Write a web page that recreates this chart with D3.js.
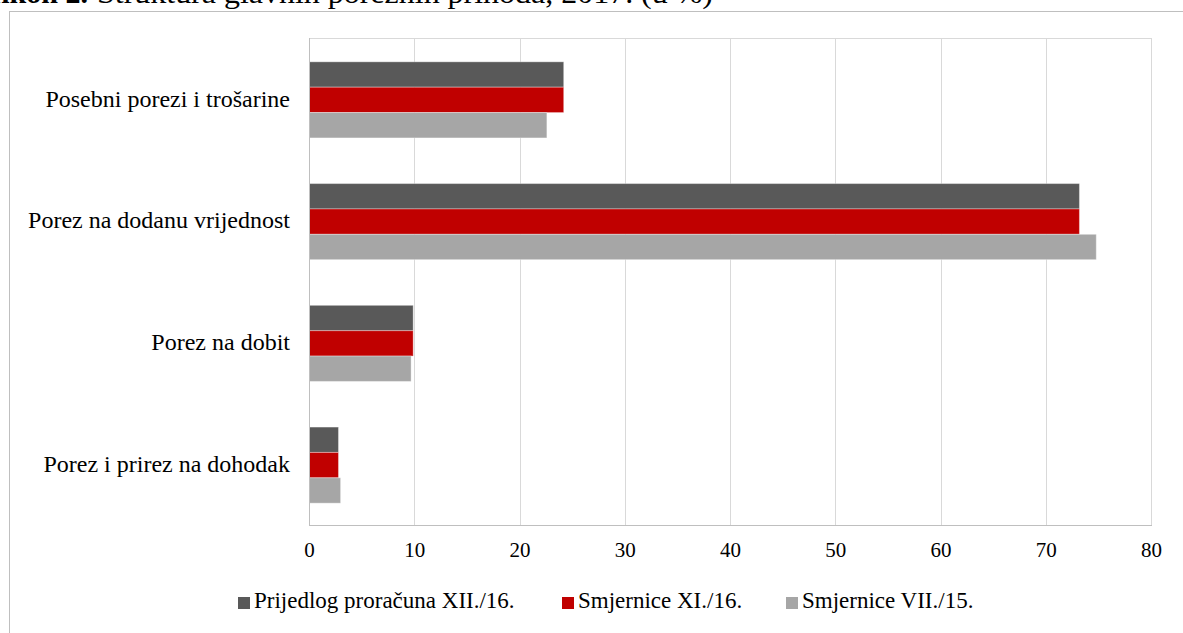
<!DOCTYPE html>
<html><head><meta charset="utf-8">
<script src="https://cdn.jsdelivr.net/npm/d3@7"></script>
<style>html,body{margin:0;padding:0;background:#fff;overflow:hidden}</style>
</head><body>
<svg id="c" width="1183" height="633"></svg>
<script>
const categories = ["Posebni porezi i trošarine","Porez na dodanu vrijednost","Porez na dobit","Porez i prirez na dohodak"];
const seriesNames = ["Prijedlog proračuna XII./16.","Smjernice XI./16.","Smjernice VII./15."];
const seriesColors = ["#595959","#C00000","#A6A6A6"];
const valuesXII16 = [24.2, 73.2, 9.9, 2.8];
const valuesXI16  = [24.2, 73.2, 9.9, 2.8];
const valuesVII15 = [22.6, 74.8, 9.7, 3.0];
const xTicks = [0,10,20,30,40,50,60,70,80];

const series = [valuesXII16, valuesXI16, valuesVII15];
const font = "'Liberation Serif', serif";
const svg = d3.select("#c");

// title (cut off at top, as in the reference)
svg.append("text").attr("x",88).attr("y",3).attr("text-anchor","end").attr("font-family",font)
  .attr("font-size",30).attr("font-weight","bold").attr("fill","#000").text("Grafikon 2.");
svg.append("text").attr("x",97).attr("y",3).attr("font-family",font).attr("font-size",30)
  .attr("textLength",616).attr("lengthAdjust","spacingAndGlyphs").attr("fill","#000")
  .text("Struktura glavnih poreznih prihoda, 2017. (u %)");

// outer frame
svg.append("rect").attr("x",9.5).attr("y",11.5).attr("width",1300).attr("height",700)
  .attr("fill","none").attr("stroke","#BFBFBF").attr("stroke-width",1);

const L=309, R=1151, T=38, B=525;
const x = d3.scaleLinear().domain([0,80]).range([L,R]);
const y0 = d3.scaleBand().domain(categories).range([T,B]).paddingInner(0.375).paddingOuter(0.1875);
const y1 = d3.scaleBand().domain(d3.range(series.length)).range([0,y0.bandwidth()]);

// grid
svg.append("g").selectAll("line").data(xTicks.slice(1)).join("line")
  .attr("x1",d=>Math.round(x(d))+0.5).attr("x2",d=>Math.round(x(d))+0.5)
  .attr("y1",T).attr("y2",B).attr("stroke","#D9D9D9").attr("stroke-width",1);
svg.append("line").attr("x1",L).attr("x2",R+1).attr("y1",T+0.5).attr("y2",T+0.5).attr("stroke","#D9D9D9");

// bars
const g = svg.append("g");
categories.forEach((c,ci)=>{
  series.forEach((s,si)=>{
    g.append("rect").attr("x",x(0)).attr("y",y0(c)+y1(si)+1)
      .attr("width",x(s[ci])-x(0)).attr("height",y1.bandwidth())
      .attr("fill",seriesColors[si]).attr("stroke","#ffffff").attr("stroke-opacity",0.35).attr("stroke-width",1);
  });
});

// axes lines
svg.append("line").attr("x1",L+0.5).attr("x2",L+0.5).attr("y1",T).attr("y2",B+1).attr("stroke","#BFBFBF");
svg.append("line").attr("x1",L).attr("x2",R+1).attr("y1",B+0.5).attr("y2",B+0.5).attr("stroke","#BFBFBF");

// x axis labels
const xa = svg.append("g").attr("transform",`translate(0,${B})`)
  .call(d3.axisBottom(x).tickValues(xTicks).tickSize(0).tickPadding(0));
xa.select(".domain").remove();
xa.selectAll("text").attr("y",32).attr("dy",0).attr("font-family",font).attr("font-size",21).attr("fill","#000");

// category labels
const ya = svg.append("g").attr("transform",`translate(${L},0)`)
  .call(d3.axisLeft(y0).tickSize(0).tickPadding(19));
ya.select(".domain").remove();
ya.selectAll("text").attr("font-family",font).attr("font-size",24).attr("fill","#000");

// legend
const legX = [238, 562, 786];
const lg = svg.append("g");
seriesNames.forEach((n,i)=>{
  lg.append("rect").attr("x",legX[i]).attr("y",597).attr("width",12).attr("height",12).attr("fill",seriesColors[i]);
  lg.append("text").attr("x",legX[i]+16).attr("y",608).attr("font-family",font).attr("font-size",23).attr("fill","#000").text(n);
});
</script>
</body></html>
